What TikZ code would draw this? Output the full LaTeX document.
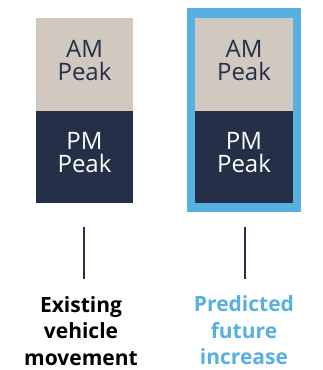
\documentclass[tikz,border=0pt]{standalone}
\usepackage{fontspec}
\setmainfont{Open Sans}
\definecolor{beige}{HTML}{D1C8BF}
\definecolor{navy}{HTML}{243047}
\definecolor{skyblue}{HTML}{58B0E0}
\begin{document}
\begin{tikzpicture}[x=1pt,y=-1pt,
  peak/.style={minimum height=92.5pt,inner sep=0pt,anchor=north west},
  peaktext/.style={align=center,inner sep=0pt,font=\fontsize{24}{23}\selectfont},
  label/.style={align=center,anchor=north,inner sep=0pt,font=\fontsize{21}{26.2}\selectfont\bfseries},
  tick/.style={draw=navy,line width=2pt}]
\useasboundingbox (0,0) rectangle (322,370);
% right frame
\node[fill=skyblue,minimum width=114pt,minimum height=204pt,inner sep=0pt,anchor=north west] (frame) at (187,8) {};
% left column
\node[peak,fill=beige,minimum width=97pt] (am1) at (36,18) {};
\node[peak,fill=navy,minimum width=97pt] (pm1) at (36,110.5) {};
\node[peaktext,text=navy] (am1t) at (84.5,61) {AM\\Peak};
\node[peaktext,text=white] (pm1t) at (84.5,152.5) {PM\\Peak};
% right column
\node[peak,fill=beige,minimum width=98pt] (am2) at (195,18) {};
\node[peak,fill=navy,minimum width=98pt] (pm2) at (195,110.5) {};
\node[peaktext,text=navy] (am2t) at (244,61) {AM\\Peak};
\node[peaktext,text=white] (pm2t) at (244,152.5) {PM\\Peak};
% ticks
\coordinate (t1a) at (84,227); \coordinate (t1b) at (84,279);
\coordinate (t2a) at (245,227); \coordinate (t2b) at (245,279);
\draw[tick] (t1a) -- (t1b);
\draw[tick] (t2a) -- (t2b);
% labels
\node[label,text=black] (l1) at (81,296.5) {Existing\\vehicle\\movement};
\node[label,text=skyblue] (l2) at (244,295.7) {Predicted\\future\\increase};
\end{tikzpicture}
\end{document}
